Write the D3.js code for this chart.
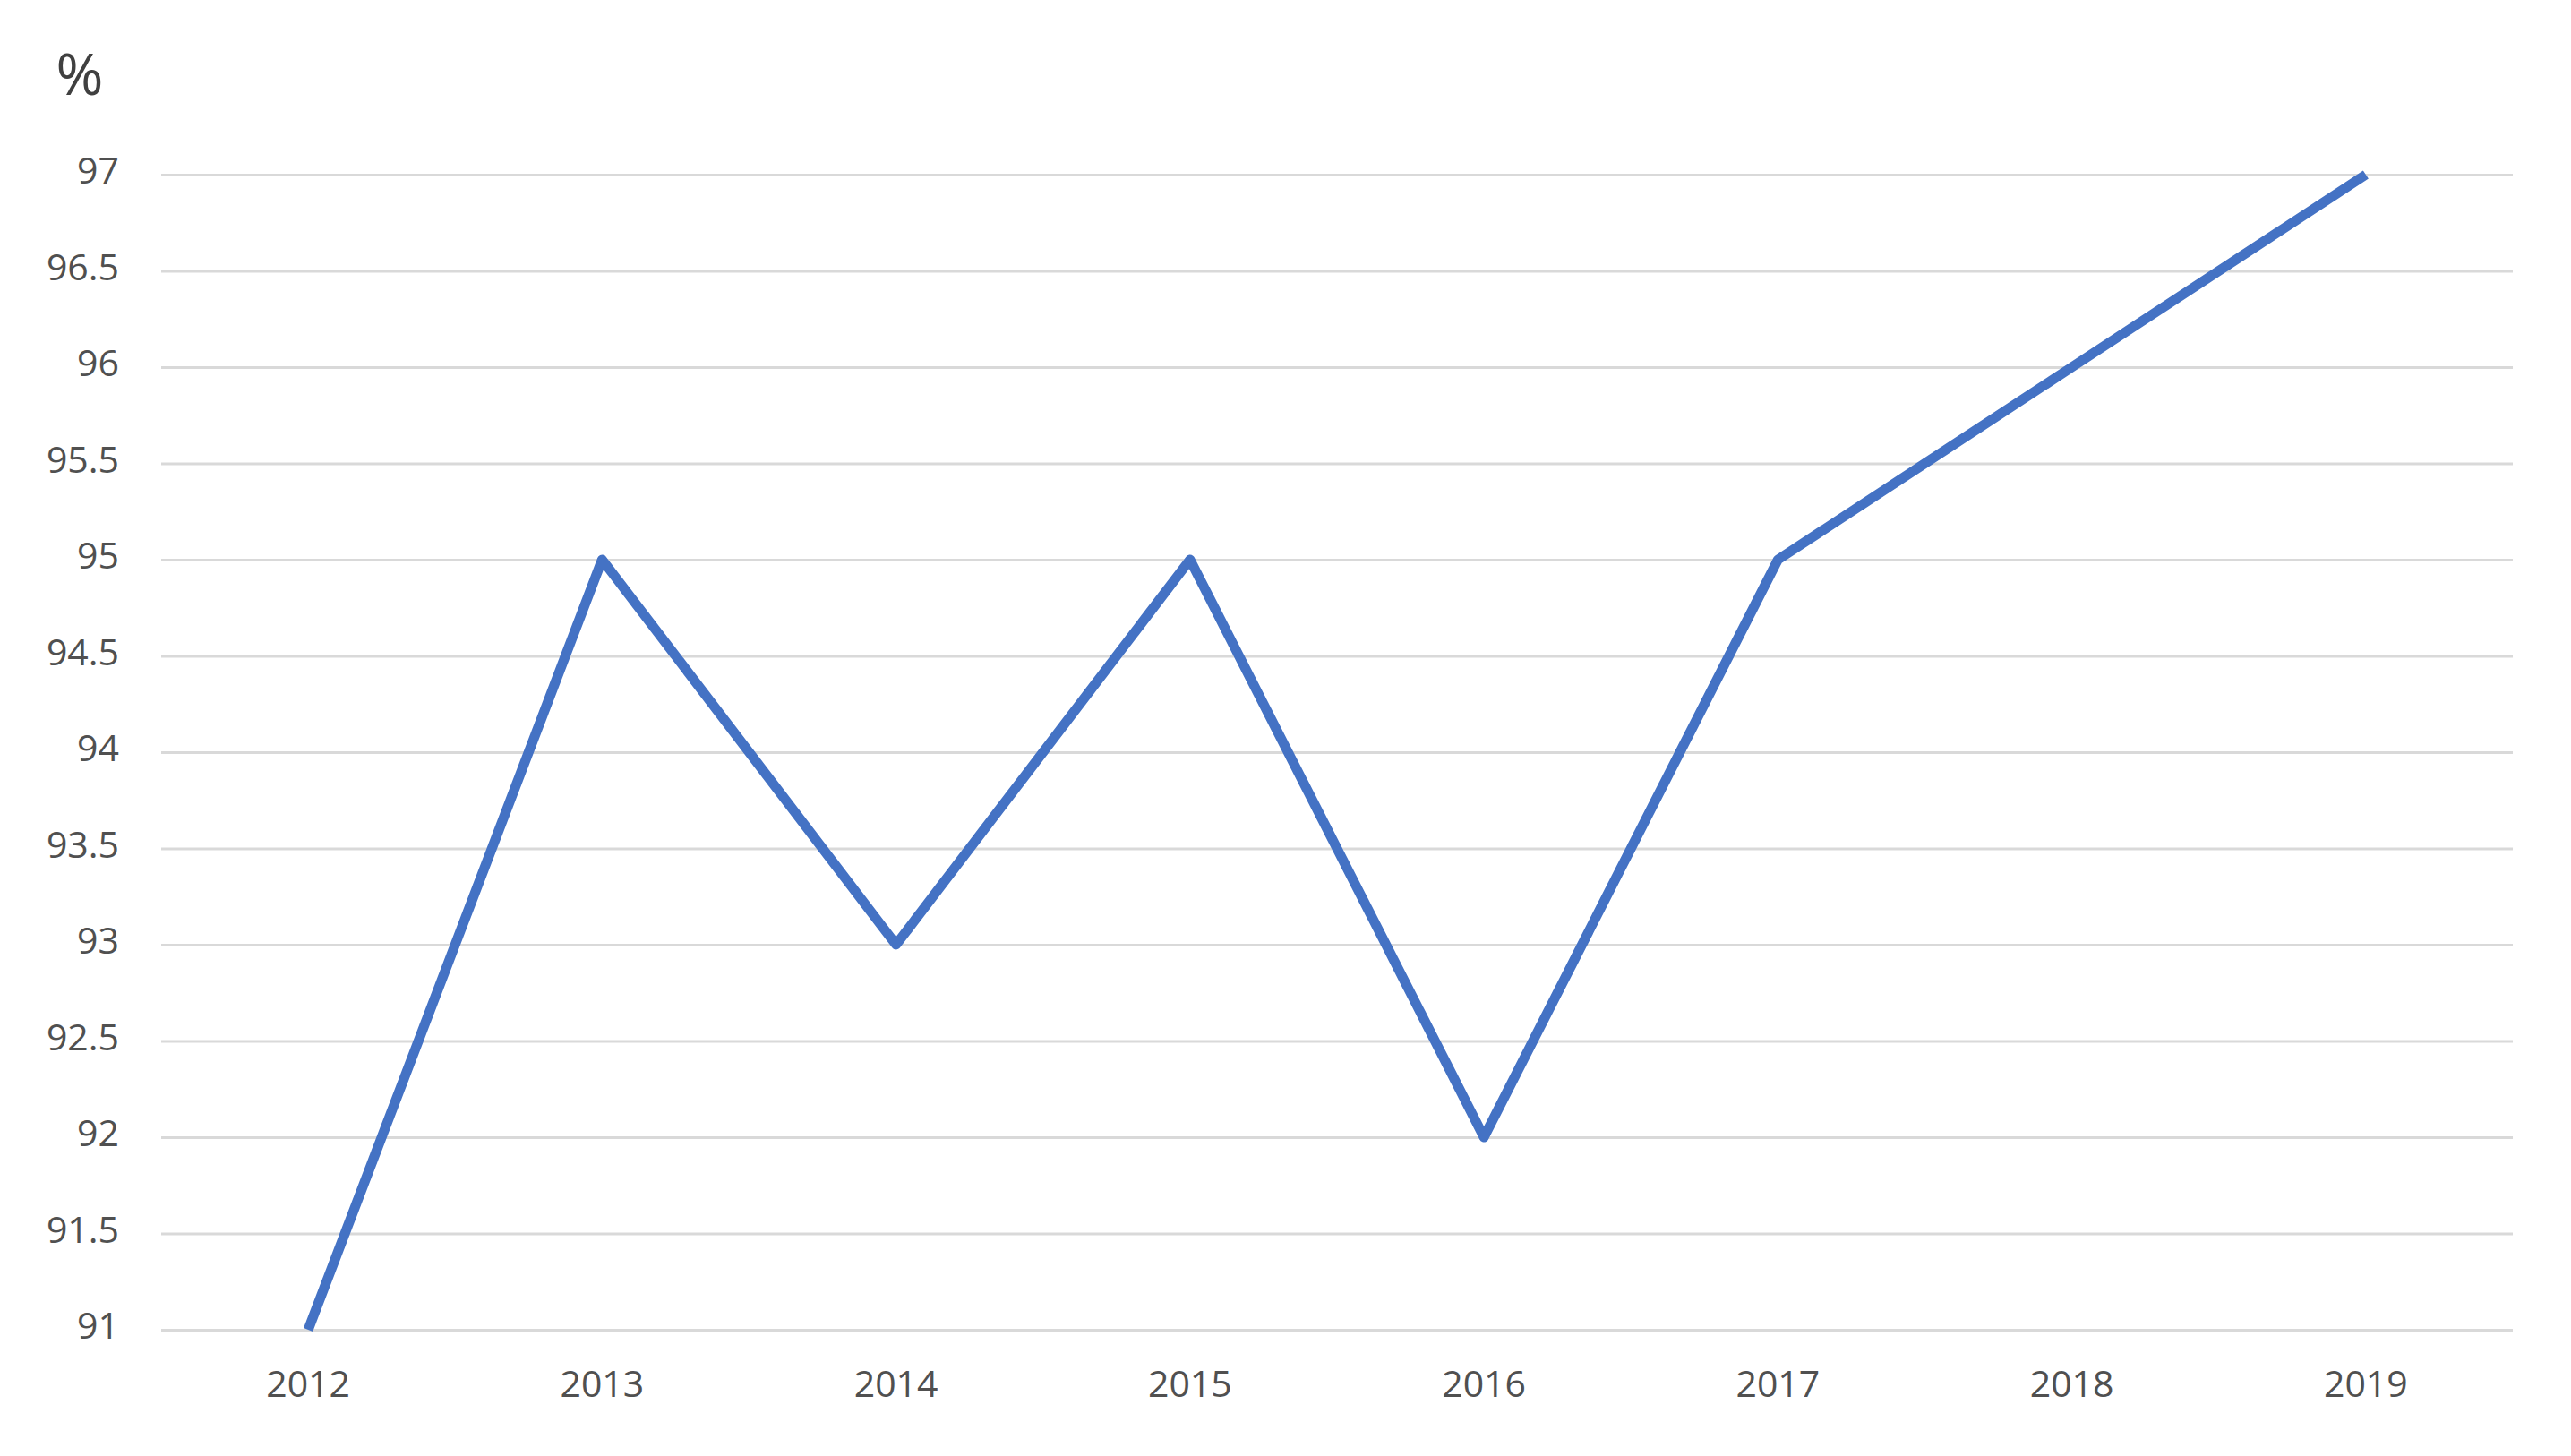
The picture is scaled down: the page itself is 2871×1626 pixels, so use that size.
<!DOCTYPE html>
<html>
<head>
<meta charset="utf-8">
<script src="https://cdn.jsdelivr.net/npm/d3@7"></script>
<style>
  html, body { margin: 0; padding: 0; background: #ffffff; }
  svg { display: block; }
</style>
</head>
<body>
<svg id="chart" width="2871" height="1626"></svg>
<script>
const years = ["2012", "2013", "2014", "2015", "2016", "2017", "2018", "2019"];
const values = [91, 95, 93, 95, 92, 95, 96, 97];
const yTicks = [91, 91.5, 92, 92.5, 93, 93.5, 94, 94.5, 95, 95.5, 96, 96.5, 97];
const unitLabel = "%";

const W = 2871, H = 1626;
const margin = { left: 180, right: 65, top: 195, bottom: 141 };
const svg = d3.select("#chart");

const x = d3.scaleBand().domain(years).range([margin.left, W - margin.right]);
const y = d3.scaleLinear().domain([91, 97]).range([H - margin.bottom, margin.top]);

const font = "'Open Sans', 'Liberation Sans', sans-serif";

// gridlines
const yAxis = d3.axisLeft(y).tickValues(yTicks).tickSize(-(W - margin.left - margin.right)).tickPadding(47).tickFormat(d3.format("~g"));
const gy = svg.append("g").attr("transform", `translate(${margin.left},0)`).call(yAxis);
gy.select(".domain").remove();
gy.selectAll(".tick line").attr("stroke", "#d9d9d9").attr("stroke-width", 3);
gy.selectAll(".tick text").attr("fill", "#505050").attr("font-family", font).attr("font-size", 41).attr("dy", "0.24em");

// x axis
const xAxis = d3.axisBottom(x).tickSize(0).tickPadding(46);
const gx = svg.append("g").attr("transform", `translate(0,${H - margin.bottom})`).call(xAxis);
gx.select(".domain").remove();
gx.selectAll(".tick text").attr("fill", "#505050").attr("font-family", font).attr("font-size", 41);

// unit label
svg.append("text").attr("x", 89).attr("y", 106).attr("text-anchor", "middle")
  .attr("fill", "#404040").attr("font-family", font).attr("font-size", 64).text(unitLabel);

// line
const line = d3.line().x((d, i) => x(years[i]) + x.bandwidth() / 2).y(d => y(d));
svg.append("path").datum(values).attr("d", line)
  .attr("fill", "none").attr("stroke", "#4472C4").attr("stroke-width", 11)
  .attr("stroke-linejoin", "round").attr("stroke-linecap", "butt");
</script>
</body>
</html>
